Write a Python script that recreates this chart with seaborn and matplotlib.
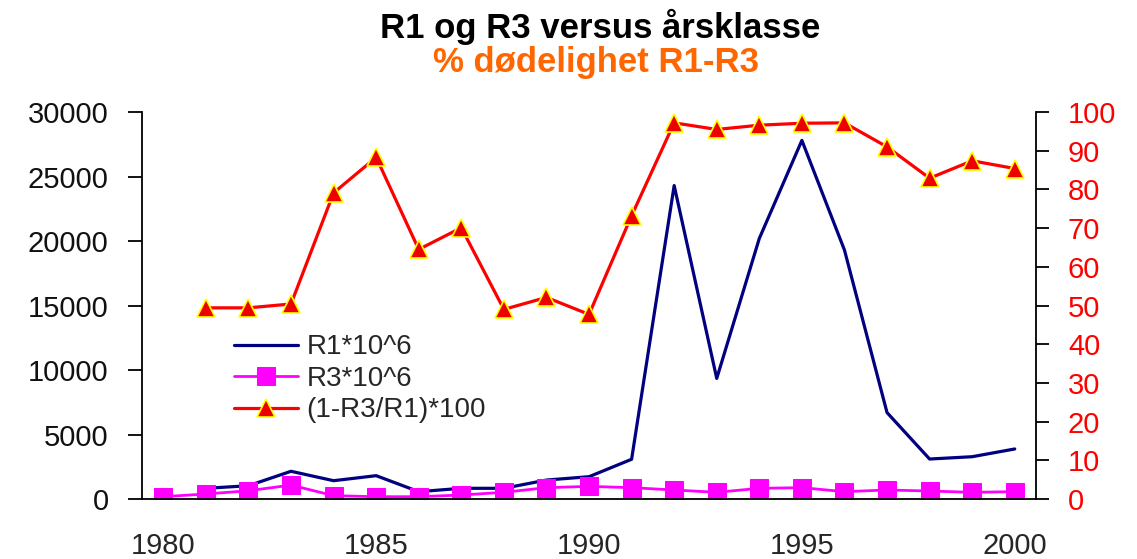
import numpy as np
import pandas as pd
import matplotlib
matplotlib.use("Agg")
import matplotlib.pyplot as plt
import seaborn as sns

years = list(range(1980, 2001))
r1 = [np.nan, 830, 1030, 2150, 1420, 1810, 570, 830, 830, 1470, 1730,
      3080, 24300, 9350, 20200, 27800, 19300, 6700, 3100, 3280, 3880]
r3 = [180, 390, 640, 1080, 260, 180, 180, 310, 520, 880, 980,
      880, 700, 520, 830, 880, 570, 700, 620, 520, 570]
pct = [np.nan, 49.4, 49.4, 50.4, 79.1, 88.3, 64.5, 70.1, 49.0, 52.1, 47.7,
       73.2, 97.2, 95.5, 96.6, 97.1, 97.2, 91.0, 82.9, 87.4, 85.4]

df = pd.DataFrame({'year': years, 'r1': r1, 'r3': r3, 'pct': pct})

sns.set_style("white")
plt.rcParams['font.family'] = ['Liberation Sans', 'DejaVu Sans']

fig = plt.figure(figsize=(11.37, 5.59), dpi=100)
ax = fig.add_axes([0.1249, 0.1073, 0.7863, 0.6923])
ax2 = ax.twinx()

sns.lineplot(data=df, x='year', y='r1', ax=ax, color='#000080', linewidth=2.3,
             errorbar=None, label='R1*10^6')
sns.lineplot(data=df, x='year', y='r3', ax=ax, color='#FF00FF', linewidth=2,
             marker='s', markersize=13, markeredgecolor='#FF00FF',
             errorbar=None, label='R3*10^6')
sns.lineplot(data=df, x='year', y='pct', ax=ax2, color='#FF0000', linewidth=2.3,
             marker='^', markersize=13, markerfacecolor='#EE0000',
             markeredgecolor='#FFFF00', markeredgewidth=1.2,
             errorbar=None, label='(1-R3/R1)*100')

for a in (ax, ax2):
    leg = a.get_legend()
    if leg is not None:
        leg.remove()
    a.set_xlabel('')
    a.set_ylabel('')

ax.set_xlim(1979.5, 2000.5)
ax.set_ylim(0, 30000)
ax2.set_ylim(0, 100)

ax.set_xticks([1980, 1985, 1990, 1995, 2000])
ax.set_xticks(np.arange(1979.5, 2001, 1), minor=True)
ax.tick_params(axis='x', which='major', length=0, pad=24, labelsize=21)
ax.tick_params(axis='x', which='minor', length=8, width=1.3, direction='out', color='black')
ax.set_yticks(range(0, 30001, 5000))
ax.tick_params(axis='y', length=10, width=1.3, direction='out', pad=14,
               labelsize=21, color='black', labelcolor='#111111')
ax2.set_yticks(range(0, 101, 10))
ax2.tick_params(axis='y', length=9, width=1.3, direction='out', pad=14,
                labelsize=21, color='black', labelcolor='#FF0000')

for a in (ax, ax2):
    a.spines['top'].set_visible(False)
    for s in ('left', 'right', 'bottom'):
        a.spines[s].set_color('black')
        a.spines[s].set_linewidth(1.3)
ax.spines['right'].set_visible(False)
ax2.spines['left'].set_visible(False)
ax2.spines['bottom'].set_visible(False)

handles = ax.get_lines()[:2] + ax2.get_lines()[:1]
labels = ['R1*10^6', 'R3*10^6', '(1-R3/R1)*100']
ax2.legend(handles, labels, loc='upper left', bbox_to_anchor=(0.206, 0.402),
           bbox_transform=fig.transFigure, frameon=False, fontsize=20,
           handlelength=2.3, handletextpad=0.3, labelspacing=0.2,
           borderpad=0, borderaxespad=0)

fig.text(0.528, 0.952, 'R1 og R3 versus årsklasse', ha='center', va='center',
         fontsize=25, fontweight='bold', color='black')
fig.text(0.524, 0.889, '% dødelighet R1-R3', ha='center', va='center',
         fontsize=25, fontweight='bold', color='#FF6600')

fig.savefig('out.png', dpi=100)
